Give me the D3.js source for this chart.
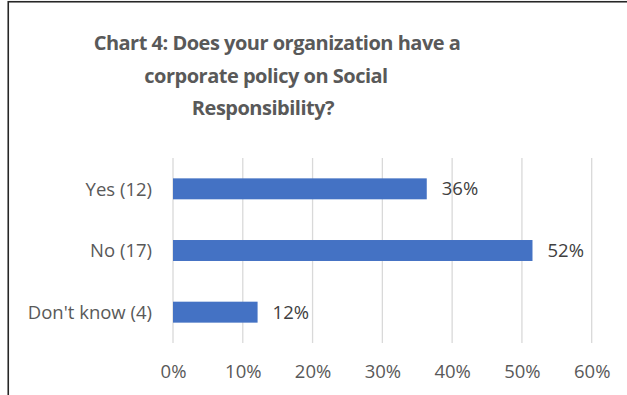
<!DOCTYPE html>
<html>
<head>
<meta charset="utf-8">
<script src="https://cdn.jsdelivr.net/npm/d3@7/dist/d3.min.js"></script>
<style>
  html, body { margin: 0; padding: 0; background: #ffffff; }
  svg { display: block; }
</style>
</head>
<body>
<script>
// Survey responses (33 organisations in total)
const categories = ["Yes (12)", "No (17)", "Don't know (4)"];
const counts = [12, 17, 4];
const total = 33;
const shares = counts.map(c => c / total);
const tickValues = [0, 0.1, 0.2, 0.3, 0.4, 0.5, 0.6];
const titleLines = [
  "Chart 4: Does your organization have a",
  "corporate policy on Social",
  "Responsibility?"
];

const W = 627, H = 395;
const svg = d3.select("body").append("svg")
  .attr("width", W).attr("height", H);

svg.append("rect").attr("width", W).attr("height", H).attr("fill", "#ffffff");

// chart frame (continues past the right and bottom edges)
svg.append("rect")
  .attr("x", 8.25).attr("y", 1.75)
  .attr("width", 700).attr("height", 500)
  .attr("fill", "none")
  .attr("stroke", "#262626")
  .attr("stroke-width", 1.6);

// title
const titleX = [277, 266, 263];
const title = svg.append("g")
  .attr("font-family", "'Open Sans', sans-serif")
  .attr("font-weight", "bold")
  .attr("font-size", 20)
  .attr("letter-spacing", -0.5)
  .attr("fill", "#595959")
  .attr("text-anchor", "middle");
titleLines.forEach((t, i) => {
  title.append("text")
    .attr("x", titleX[i])
    .attr("y", 50 + i * 32.5)
    .text(t);
});

const plot = { left: 173, right: 591.7, top: 158, bottom: 343 };

const x = d3.scaleLinear().domain([0, 0.6]).range([plot.left, plot.right]);
const y = d3.scaleBand().domain(categories)
  .range([plot.top, plot.bottom])
  .paddingInner(0.66).paddingOuter(0.33);

// vertical gridlines
svg.append("g")
  .selectAll("line")
  .data(tickValues)
  .join("line")
  .attr("x1", d => x(d)).attr("x2", d => x(d))
  .attr("y1", plot.top).attr("y2", plot.bottom)
  .attr("stroke", "#d9d9d9")
  .attr("stroke-width", 1.3);

// x axis tick labels
const xAxis = d3.axisBottom(x)
  .tickValues(tickValues)
  .tickFormat(d3.format(".0%"))
  .tickSize(0)
  .tickPadding(0);
const gx = svg.append("g")
  .attr("transform", `translate(0,${plot.bottom + 22})`)
  .call(xAxis);
gx.select(".domain").remove();
gx.selectAll("text")
  .attr("font-family", "'Open Sans', sans-serif")
  .attr("font-size", 18.5)
  .attr("fill", "#595959")
  .attr("dy", "0.72em");

// y axis category labels
const yAxis = d3.axisLeft(y).tickSize(0).tickPadding(21);
const gy = svg.append("g")
  .attr("transform", `translate(${plot.left},0)`)
  .call(yAxis);
gy.select(".domain").remove();
gy.selectAll("text")
  .attr("font-family", "'Open Sans', sans-serif")
  .attr("font-size", 18.5)
  .attr("fill", "#595959")
  .attr("dy", "0.36em");

// bars
svg.append("g")
  .selectAll("rect")
  .data(categories)
  .join("rect")
  .attr("x", x(0))
  .attr("y", d => y(d))
  .attr("width", (d, i) => x(shares[i]) - x(0))
  .attr("height", y.bandwidth())
  .attr("fill", "#4472c4");

// value labels
svg.append("g")
  .selectAll("text")
  .data(categories)
  .join("text")
  .attr("x", (d, i) => x(shares[i]) + 15)
  .attr("y", d => y(d) + y.bandwidth() / 2)
  .attr("dy", "0.36em")
  .attr("font-family", "'Open Sans', sans-serif")
  .attr("font-size", 18.5)
  .attr("fill", "#404040")
  .text((d, i) => d3.format(".0%")(shares[i]));
</script>
</body>
</html>
